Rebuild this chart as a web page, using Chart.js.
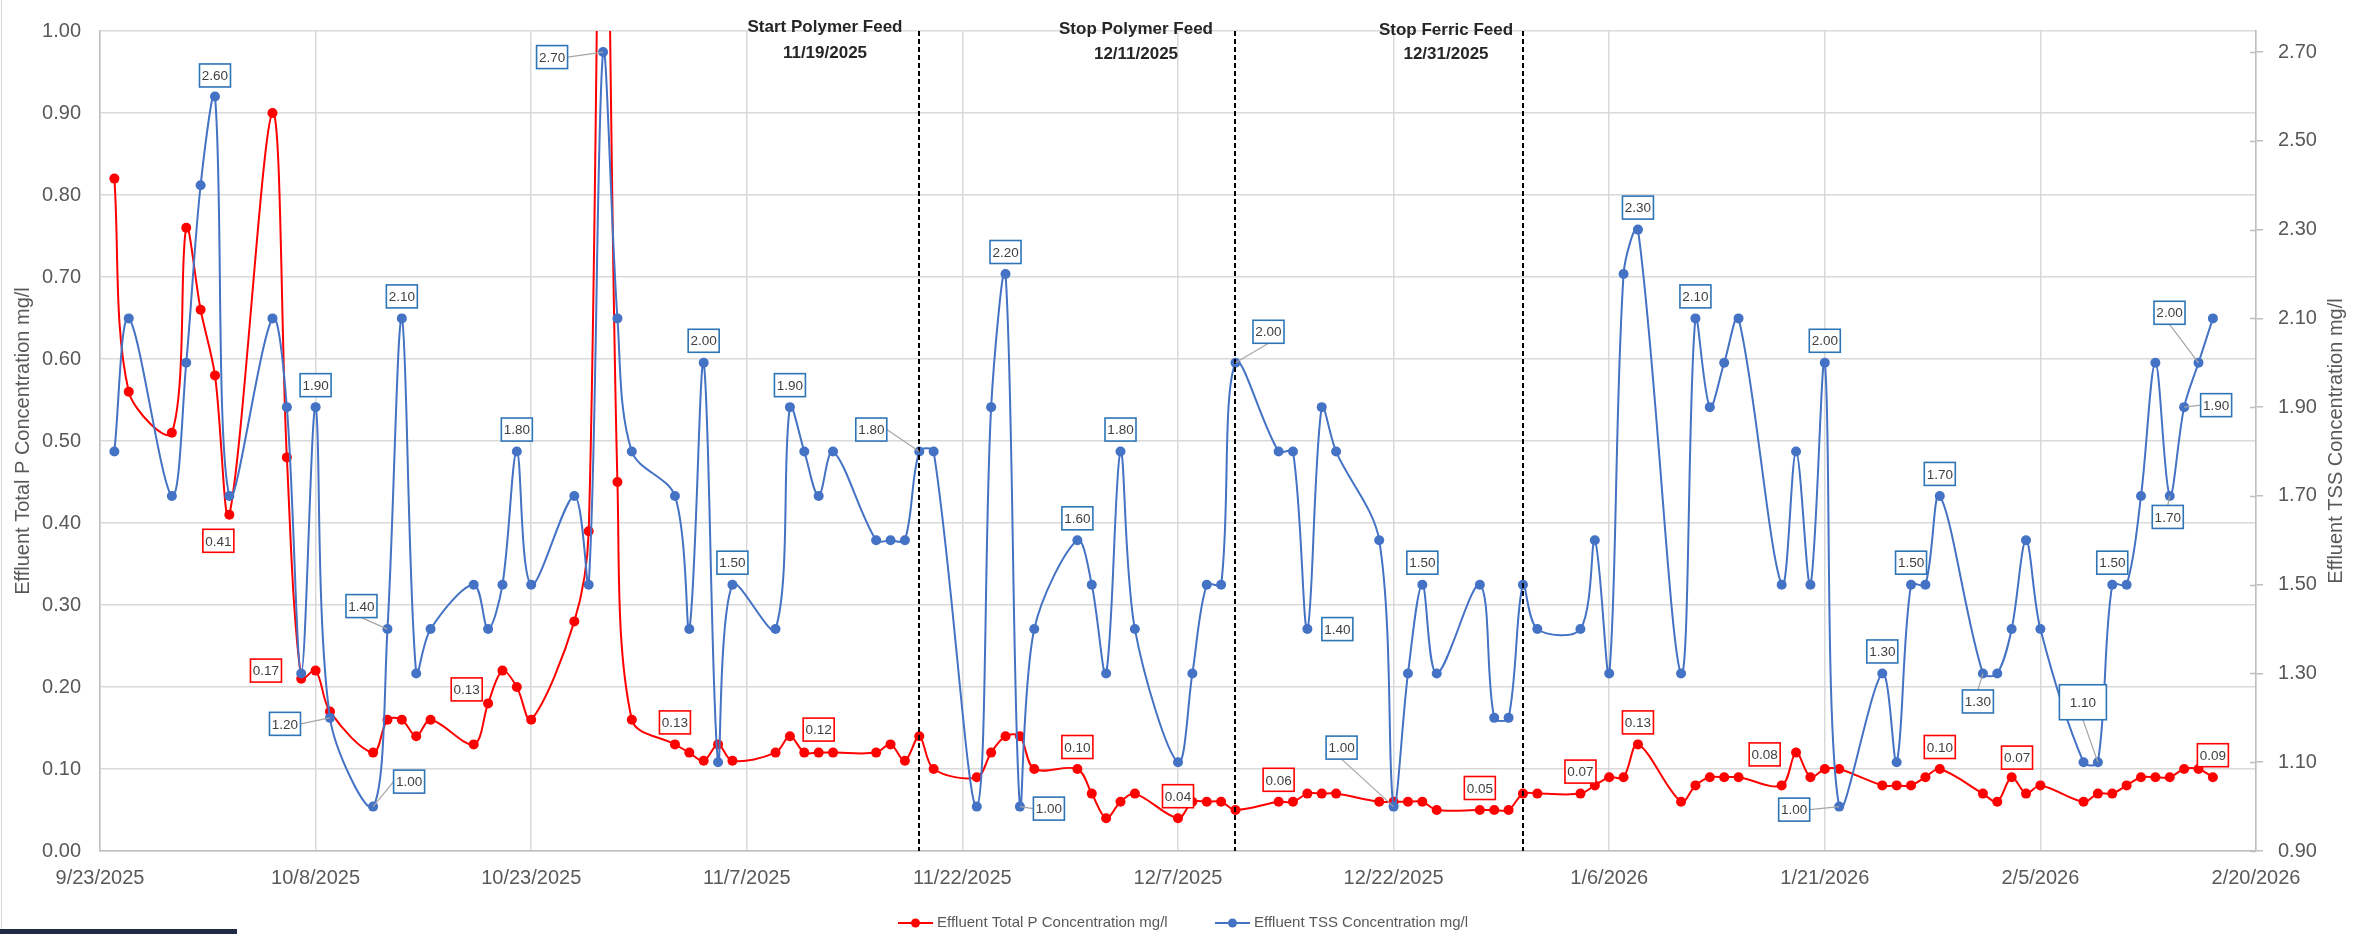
<!DOCTYPE html>
<html>
<head>
<meta charset="utf-8">
<title>Effluent Total P and TSS</title>
<script src="https://cdn.jsdelivr.net/npm/chart.js@4.4.1/dist/chart.umd.min.js"></script>
<style>
  html, body { margin: 0; padding: 0; background: #fff; }
  #wrap { position: relative; width: 2371px; height: 934px; overflow: hidden; }
  #chart { display: block; }
  #edge { position: absolute; left: 1px; top: 0; width: 1px; height: 929px; background: #d9d9d9; }
  #bar { position: absolute; left: 0; bottom: 0; width: 237px; height: 5px; background: #1f2a44; }
</style>
</head>
<body>
<div id="wrap">
  <canvas id="chart" width="2371" height="934"></canvas>
  <div id="edge"></div>
  <div id="bar"></div>
</div>
<script>
// Lab results, one row per sample day
const sampleDates = [
  "9/24/2025", "9/25/2025", "9/28/2025", "9/29/2025", "9/30/2025", "10/1/2025", "10/2/2025",
  "10/5/2025", "10/6/2025", "10/7/2025", "10/8/2025", "10/9/2025", "10/12/2025", "10/13/2025",
  "10/14/2025", "10/15/2025", "10/16/2025", "10/19/2025", "10/20/2025", "10/21/2025", "10/22/2025",
  "10/23/2025", "10/26/2025", "10/27/2025", "10/28/2025", "10/29/2025", "10/30/2025", "11/2/2025",
  "11/3/2025", "11/4/2025", "11/5/2025", "11/6/2025", "11/9/2025", "11/10/2025", "11/11/2025",
  "11/12/2025", "11/13/2025", "11/16/2025", "11/17/2025", "11/18/2025", "11/19/2025", "11/20/2025",
  "11/23/2025", "11/24/2025", "11/25/2025", "11/26/2025", "11/27/2025", "11/30/2025", "12/1/2025",
  "12/2/2025", "12/3/2025", "12/4/2025", "12/7/2025", "12/8/2025", "12/9/2025", "12/10/2025",
  "12/11/2025", "12/14/2025", "12/15/2025", "12/16/2025", "12/17/2025", "12/18/2025", "12/21/2025",
  "12/22/2025", "12/23/2025", "12/24/2025", "12/25/2025", "12/28/2025", "12/29/2025", "12/30/2025",
  "12/31/2025", "1/1/2026", "1/4/2026", "1/5/2026", "1/6/2026", "1/7/2026", "1/8/2026",
  "1/11/2026", "1/12/2026", "1/13/2026", "1/14/2026", "1/15/2026", "1/18/2026", "1/19/2026",
  "1/20/2026", "1/21/2026", "1/22/2026", "1/25/2026", "1/26/2026", "1/27/2026", "1/28/2026",
  "1/29/2026", "2/1/2026", "2/2/2026", "2/3/2026", "2/4/2026", "2/5/2026", "2/8/2026",
  "2/9/2026", "2/10/2026", "2/11/2026", "2/12/2026", "2/13/2026", "2/14/2026", "2/15/2026",
  "2/16/2026", "2/17/2026"
];

const totalP = [
  0.82, 0.56, 0.51, 0.76, 0.66, 0.58, 0.41,
  0.90, 0.48, 0.21, 0.22, 0.17, 0.12, 0.16,
  0.16, 0.14, 0.16, 0.13, 0.18, 0.22, 0.20,
  0.16, 0.28, 0.39, 1.47, 0.45, 0.16, 0.13,
  0.12, 0.11, 0.13, 0.11, 0.12, 0.14, 0.12,
  0.12, 0.12, 0.12, 0.13, 0.11, 0.14, 0.10,
  0.09, 0.12, 0.14, 0.14, 0.10, 0.10, 0.07,
  0.04, 0.06, 0.07, 0.04, 0.06, 0.06, 0.06,
  0.05, 0.06, 0.06, 0.07, 0.07, 0.07, 0.06,
  0.06, 0.06, 0.06, 0.05, 0.05, 0.05, 0.05,
  0.07, 0.07, 0.07, 0.08, 0.09, 0.09, 0.13,
  0.06, 0.08, 0.09, 0.09, 0.09, 0.08, 0.12,
  0.09, 0.10, 0.10, 0.08, 0.08, 0.08, 0.09,
  0.10, 0.07, 0.06, 0.09, 0.07, 0.08, 0.06,
  0.07, 0.07, 0.08, 0.09, 0.09, 0.09, 0.10,
  0.10, 0.09
];

const tss = [
  1.8, 2.1, 1.7, 2.0, 2.4, 2.6, 1.7,
  2.1, 1.9, 1.3, 1.9, 1.2, 1.0, 1.4,
  2.1, 1.3, 1.4, 1.5, 1.4, 1.5, 1.8,
  1.5, 1.7, 1.5, 2.7, 2.1, 1.8, 1.7,
  1.4, 2.0, 1.1, 1.5, 1.4, 1.9, 1.8,
  1.7, 1.8, 1.6, 1.6, 1.6, 1.8, 1.8,
  1.0, 1.9, 2.2, 1.0, 1.4, 1.6, 1.5,
  1.3, 1.8, 1.4, 1.1, 1.3, 1.5, 1.5,
  2.0, 1.8, 1.8, 1.4, 1.9, 1.8, 1.6,
  1.0, 1.3, 1.5, 1.3, 1.5, 1.2, 1.2,
  1.5, 1.4, 1.4, 1.6, 1.3, 2.2, 2.3,
  1.3, 2.1, 1.9, 2.0, 2.1, 1.5, 1.8,
  1.5, 2.0, 1.0, 1.3, 1.1, 1.5, 1.5,
  1.7, 1.3, 1.3, 1.4, 1.6, 1.4, 1.1,
  1.1, 1.5, 1.5, 1.7, 2.0, 1.7, 1.9,
  2.0, 2.1
];

// axis ticks
const xStart = "9/23/2025";
const xEnd = "2/20/2026";
const xTickStep = 15;
const pTicks = [0, 0.1, 0.2, 0.3, 0.4, 0.5, 0.6, 0.7, 0.8, 0.9, 1.0];
const tssTicks = [0.9, 1.1, 1.3, 1.5, 1.7, 1.9, 2.1, 2.3, 2.5, 2.7];

// process changes marked on the chart
const feedDates = ["11/19/2025", "12/11/2025", "12/31/2025"];
const feedNotes = ["Start Polymer Feed", "Stop Polymer Feed", "Stop Ferric Feed"];

// which points carry a value label: [date, dx, dy, leader line, box w, box h]
const pLabelSpots = [
  ["10/2/2025", -11, 26], ["10/9/2025", -64, -41], ["10/19/2025", -7, -55],
  ["11/2/2025", 0, -22], ["11/12/2025", 0, -23], ["11/30/2025", 0, -22],
  ["12/7/2025", 0, -22], ["12/14/2025", 0, -22], ["12/28/2025", 0, -22],
  ["1/4/2026", 0, -22], ["1/8/2026", 0, -22], ["1/18/2026", -17, -31],
  ["1/29/2026", 0, -22], ["2/4/2026", -9, -36], ["2/17/2026", 0, -22]
];
const tssLabelSpots = [
  ["10/1/2025", 0, -21], ["10/8/2025", 0, -22], ["10/9/2025", -45, 6, true],
  ["10/12/2025", 36, -25, true], ["10/13/2025", -26, -23, true], ["10/14/2025", 0, -22],
  ["10/22/2025", 0, -22], ["10/28/2025", -51, 5, true], ["11/4/2025", 0, -22],
  ["11/6/2025", 0, -22], ["11/10/2025", 0, -22], ["11/19/2025", -48, -22, true],
  ["11/25/2025", 0, -22], ["11/26/2025", 29, 2, true], ["11/30/2025", 0, -22],
  ["12/3/2025", 0, -22], ["12/11/2025", 33, -31, true], ["12/16/2025", 30, 0],
  ["12/22/2025", -52, -59, true], ["12/24/2025", 0, -22], ["1/8/2026", 0, -22],
  ["1/12/2026", 0, -22], ["1/21/2026", 0, -22], ["1/22/2026", -45, 3, true],
  ["1/25/2026", 0, -22], ["1/27/2026", 0, -22], ["1/29/2026", 0, -22],
  ["2/1/2026", -5, 28, true], ["2/9/2026", -15, -60, true, 47, 35], ["2/10/2026", 0, -22],
  ["2/14/2026", -2, 21, true], ["2/15/2026", 32, -2, true], ["2/16/2026", -29, -50, true]
];

const FONT = "'Liberation Sans', Arial, sans-serif";
const TEXT_GRAY = "#595959";
const RED = "#ff0000";
const BLUE = "#4472c4";

const DAY_MS = 86400000;

function dateParts(s) {
  const [m, d, y] = s.split("/").map(Number);
  return Date.UTC(y, m - 1, d);
}
const origin = dateParts(xStart);

function toDay(s) {
  return Math.round((dateParts(s) - origin) / DAY_MS);
}

function fmtDay(n) {
  const dt = new Date(origin + n * DAY_MS);
  return (dt.getUTCMonth() + 1) + "/" + dt.getUTCDate() + "/" + dt.getUTCFullYear();
}

const pPoints = sampleDates.map((d, i) => ({ x: toDay(d), y: totalP[i] }));
const tssPoints = sampleDates.map((d, i) => ({ x: toDay(d), y: tss[i] }));

// box + optional leader for one value label
function drawValueLabel(ctx, px, py, spot, value, edgeColor) {
  const [, dx, dy, leader, w = 31, h = 23] = spot;
  const cx = px + dx, cy = py + dy;
  const left = cx - w / 2, top = cy - h / 2;

  if (leader) {
    let sx, sy;
    if (Math.abs(dx) - w / 2 > Math.abs(dy) - h / 2) {
      sx = dx > 0 ? left : left + w;
      sy = cy;
    } else {
      sx = cx;
      sy = dy > 0 ? top : top + h;
    }
    ctx.strokeStyle = "#a6a6a6";
    ctx.lineWidth = 1.2;
    ctx.beginPath();
    ctx.moveTo(sx, sy);
    ctx.lineTo(px, py);
    ctx.stroke();
  }

  ctx.fillStyle = "#fff";
  ctx.fillRect(left, top, w, h);
  ctx.strokeStyle = edgeColor;
  ctx.lineWidth = 1.6;
  ctx.strokeRect(left, top, w, h);

  ctx.fillStyle = "#404040";
  ctx.font = "13.5px " + FONT;
  ctx.textAlign = "center";
  ctx.textBaseline = "middle";
  ctx.fillText(value.toFixed(2), cx, cy + 1);
}

const notesPlugin = {
  id: "notes",
  afterDatasetsDraw(chart) {
    const { ctx, chartArea: area, scales } = chart;
    ctx.save();

    // dashed markers for the feed changes
    const noteOffsets = [[-94, 27, 53], [-99, 29, 54], [-77, 30, 54]];
    feedDates.forEach((d, i) => {
      const px = Math.round(scales.x.getPixelForValue(toDay(d)));
      ctx.strokeStyle = "#000";
      ctx.lineWidth = 2;
      ctx.setLineDash([5, 3]);
      ctx.beginPath();
      ctx.moveTo(px, area.top);
      ctx.lineTo(px, area.bottom);
      ctx.stroke();
      ctx.setLineDash([]);

      const [ox, y1, y2] = noteOffsets[i];
      ctx.fillStyle = "#262626";
      ctx.font = "bold 17px " + FONT;
      ctx.textAlign = "center";
      ctx.textBaseline = "middle";
      ctx.fillText(feedNotes[i], px + ox, y1);
      ctx.fillText(d, px + ox, y2);
    });

    // value labels
    const tssDs = chart.getDatasetMeta(1);
    const pDs = chart.getDatasetMeta(0);
    tssLabelSpots.forEach(spot => {
      const i = sampleDates.indexOf(spot[0]);
      const el = tssDs.data[i];
      drawValueLabel(ctx, el.x, el.y, spot, tss[i], "#2e75b6");
    });
    pLabelSpots.forEach(spot => {
      const i = sampleDates.indexOf(spot[0]);
      const el = pDs.data[i];
      drawValueLabel(ctx, el.x, el.y, spot, totalP[i], RED);
    });

    ctx.restore();
  },
  afterDraw(chart) {
    const { ctx, chartArea: area } = chart;
    ctx.save();

    // inner half of the right axis tick marks
    ctx.strokeStyle = "#bfbfbf";
    ctx.lineWidth = 1.5;
    tssTicks.forEach(v => {
      const py = Math.round(chart.scales.yTss.getPixelForValue(v)) + 0.5;
      ctx.beginPath();
      ctx.moveTo(area.right - 6, py);
      ctx.lineTo(area.right, py);
      ctx.stroke();
    });

    // right axis title reads bottom to top
    ctx.translate(2336, (area.top + area.bottom) / 2);
    ctx.rotate(-Math.PI / 2);
    ctx.fillStyle = TEXT_GRAY;
    ctx.font = "20px " + FONT;
    ctx.textAlign = "center";
    ctx.textBaseline = "middle";
    ctx.fillText("Effluent TSS Concentration mg/l", 0, 0);
    ctx.setTransform(1, 0, 0, 1, 0, 0);

    // legend
    const items = [
      { x: 898, color: RED, text: chart.data.datasets[0].label },
      { x: 1215, color: BLUE, text: chart.data.datasets[1].label }
    ];
    const ly = 923;
    items.forEach(it => {
      ctx.strokeStyle = it.color;
      ctx.lineWidth = 2;
      ctx.beginPath();
      ctx.moveTo(it.x, ly);
      ctx.lineTo(it.x + 35, ly);
      ctx.stroke();
      ctx.fillStyle = it.color;
      ctx.beginPath();
      ctx.arc(it.x + 17.5, ly, 4.5, 0, Math.PI * 2);
      ctx.fill();
      ctx.fillStyle = TEXT_GRAY;
      ctx.font = "15px " + FONT;
      ctx.textAlign = "left";
      ctx.textBaseline = "middle";
      ctx.fillText(it.text, it.x + 39, ly);
    });

    ctx.restore();
  }
};

new Chart(document.getElementById("chart"), {
  type: "line",
  data: {
    datasets: [
      {
        label: "Effluent Total P Concentration mg/l",
        data: pPoints,
        yAxisID: "yP",
        borderColor: RED,
        backgroundColor: RED,
        borderWidth: 2,
        pointRadius: 5,
        pointBorderWidth: 0,
        tension: 0.33,
        order: 2
      },
      {
        label: "Effluent TSS Concentration mg/l",
        data: tssPoints,
        yAxisID: "yTss",
        borderColor: BLUE,
        backgroundColor: BLUE,
        borderWidth: 2,
        pointRadius: 5,
        pointBorderWidth: 0,
        tension: 0.33,
        order: 1
      }
    ]
  },
  options: {
    responsive: false,
    animation: false,
    devicePixelRatio: 1,
    layout: { padding: { top: 15, left: 0, right: 0, bottom: 0 } },
    elements: { line: { capBezierPoints: false } },
    plugins: {
      legend: { display: false },
      tooltip: { enabled: false }
    },
    scales: {
      x: {
        type: "linear",
        position: "bottom",
        min: 0,
        max: toDay(xEnd),
        afterBuildTicks: axis => {
          const ticks = [];
          for (let d = 0; d <= toDay(xEnd); d += xTickStep) ticks.push({ value: d });
          axis.ticks = ticks;
        },
        afterFit: axis => { axis.height = 83; },
        ticks: {
          callback: v => fmtDay(v),
          color: TEXT_GRAY,
          font: { family: FONT, size: 20 },
          padding: 15,
          maxRotation: 0,
          autoSkip: false
        },
        grid: { color: "#d9d9d9", lineWidth: 1.5, drawTicks: false },
        border: { color: "#bfbfbf", width: 1.5 }
      },
      yP: {
        type: "linear",
        position: "left",
        min: 0,
        max: 1,
        afterBuildTicks: axis => { axis.ticks = pTicks.map(v => ({ value: v })); },
        afterFit: axis => { axis.width = 100; },
        ticks: {
          callback: v => v.toFixed(2),
          color: TEXT_GRAY,
          font: { family: FONT, size: 20 },
          padding: 19
        },
        grid: { color: "#d9d9d9", lineWidth: 1.5, drawTicks: false },
        border: { color: "#bfbfbf", width: 1.5 },
        title: {
          display: true,
          text: "Effluent Total P Concentration mg/l",
          color: TEXT_GRAY,
          font: { family: FONT, size: 20 },
          padding: { top: 11, bottom: 0 }
        }
      },
      yTss: {
        type: "linear",
        position: "right",
        min: 0.9,
        max: 2.7475,
        afterBuildTicks: axis => { axis.ticks = tssTicks.map(v => ({ value: v })); },
        afterFit: axis => { axis.width = 115; },
        ticks: {
          callback: v => v.toFixed(2),
          color: TEXT_GRAY,
          font: { family: FONT, size: 20 },
          padding: 15
        },
        grid: { drawOnChartArea: false, color: "#bfbfbf", lineWidth: 1.5, tickLength: 7 },
        border: { color: "#bfbfbf", width: 1.5 }
      }
    }
  },
  plugins: [notesPlugin]
});
</script>
</body>
</html>
